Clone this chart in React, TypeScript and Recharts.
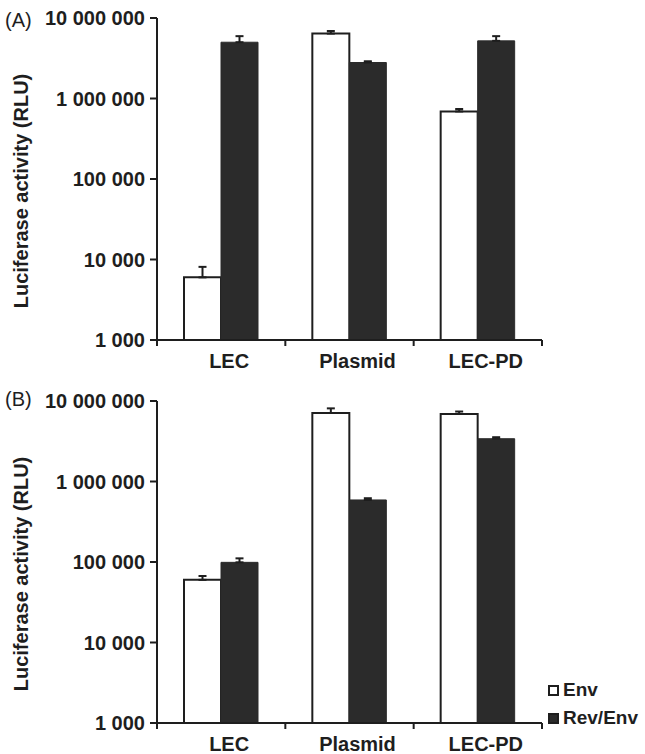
import { BarChart, Bar, XAxis, YAxis, ErrorBar, Legend, Label } from "recharts";

const CATEGORIES = ["LEC", "Plasmid", "LEC-PD"];

// panel A
const A_ENV = [6000, 6400000, 690000];
const A_ENV_ERR = [2100, 500000, 50000];
const A_REV = [5000000, 2800000, 5200000];
const A_REV_ERR = [950000, 100000, 750000];

// panel B
const B_ENV = [60000, 7100000, 6900000];
const B_ENV_ERR = [7000, 1000000, 500000];
const B_REV = [99000, 590000, 3400000];
const B_REV_ERR = [12000, 30000, 150000];

const Y_TICKS = [1000, 10000, 100000, 1000000, 10000000];

const INK = "#1e1e1e";
const DARK_BAR = "#2b2b2b";
const FONT = '"Liberation Sans", Arial, sans-serif';

const fmt = (v: number) => String(v).replace(/\B(?=(\d{3})+(?!\d))/g, " ");

function CatTick(props: any) {
  const { x, y, payload, index, width, visibleTicksCount } = props;
  const half = payload?.offset || width / visibleTicksCount / 2;
  const axisY = y - 14;
  return (
    <g>
      {index === 0 && (
        <line x1={x - half} x2={x - half} y1={axisY} y2={axisY + 6} stroke={INK} strokeWidth={2} />
      )}
      <line x1={x + half} x2={x + half} y1={axisY} y2={axisY + 6} stroke={INK} strokeWidth={2} />
      <text
        x={x + 8}
        y={y}
        dy="0.71em"
        textAnchor="middle"
        fill={INK}
        fontSize={20}
        fontWeight={700}
        fontFamily={FONT}
      >
        {payload.value}
      </text>
    </g>
  );
}

const renderYLabel = (props: any) => {
  const vb = props.viewBox;
  const cx = vb.x + 21;
  const cy = vb.y + vb.height / 2 + 12;
  return (
    <text
      x={cx}
      y={cy}
      transform={`rotate(-90, ${cx}, ${cy})`}
      textAnchor="middle"
      dominantBaseline="central"
      fill={INK}
      fontSize={20}
      fontWeight={700}
      fontFamily={FONT}
    >
      Luciferase activity (RLU)
    </text>
  );
};

function LegendContent({ payload }: any) {
  return (
    <div style={{ fontFamily: FONT }}>
      {(payload ?? []).map((p: any) => (
        <div key={p.value} style={{ display: "flex", alignItems: "center", height: 28 }}>
          <span
            style={{
              display: "inline-block",
              width: 11,
              height: 11,
              boxSizing: "border-box",
              border: `2px solid ${INK}`,
              background: p.payload?.fill ?? p.color,
              marginRight: 4,
            }}
          />
          <span style={{ fontSize: 19, fontWeight: 700, color: INK }}>{p.value}</span>
        </div>
      ))}
    </div>
  );
}

interface PanelProps {
  env: number[];
  envErr: number[];
  rev: number[];
  revErr: number[];
  height: number;
  top: number;
  axisHeight: number;
  legend?: boolean;
}

function Panel({ env, envErr, rev, revErr, height, top, axisHeight, legend }: PanelProps) {
  const data = CATEGORIES.map((name, i) => ({
    name,
    env: env[i],
    envErr: [0, envErr[i]],
    rev: rev[i],
    revErr: [0, revErr[i]],
  }));

  return (
    <BarChart
      width={645}
      height={height}
      data={data}
      barGap={0}
      margin={{ top, right: 103, left: 0, bottom: 0 }}
    >
      <XAxis
        dataKey="name"
        interval={0}
        height={axisHeight}
        tickLine={false}
        tickSize={0}
        tickMargin={14}
        axisLine={{ stroke: INK, strokeWidth: 2 }}
        tick={<CatTick />}
      />
      <YAxis
        type="number"
        scale="log"
        domain={[1000, 10000000]}
        ticks={Y_TICKS}
        allowDataOverflow
        interval={0}
        width={157}
        tickSize={7}
        tickMargin={5}
        tickFormatter={fmt}
        tickLine={{ stroke: INK, strokeWidth: 2 }}
        axisLine={{ stroke: INK, strokeWidth: 2 }}
        tick={{ fill: INK, fontSize: 20, fontWeight: 700, fontFamily: FONT }}
      >
        <Label content={renderYLabel} />
      </YAxis>
      <Bar dataKey="env" name="Env" fill="#ffffff" stroke={INK} strokeWidth={2} barSize={37} isAnimationActive={false}>
        <ErrorBar dataKey="envErr" direction="y" width={4} stroke={INK} strokeWidth={2} isAnimationActive={false} />
      </Bar>
      <Bar dataKey="rev" name="Rev/Env" fill={DARK_BAR} stroke={DARK_BAR} strokeWidth={1} barSize={37} isAnimationActive={false}>
        <ErrorBar dataKey="revErr" direction="y" width={4} stroke={INK} strokeWidth={2} isAnimationActive={false} />
      </Bar>
      {legend && (
        <Legend
          layout="vertical"
          align="center"
          verticalAlign="middle"
          wrapperStyle={{ left: 548, top: 296, width: "auto" }}
          content={<LegendContent />}
        />
      )}
    </BarChart>
  );
}

const tagStyle = {
  position: "absolute" as const,
  left: 5,
  fontSize: 20,
  lineHeight: "20px",
  fontFamily: FONT,
  color: INK,
};

export default function App() {
  return (
    <div style={{ position: "absolute", left: 0, top: 0, width: 645, height: 754, background: "#fff" }}>
      <div style={{ position: "absolute", left: 0, top: 0 }}>
        <Panel env={A_ENV} envErr={A_ENV_ERR} rev={A_REV} revErr={A_REV_ERR} height={380} top={18} axisHeight={40} />
      </div>
      <div style={{ position: "absolute", left: 0, top: 380 }}>
        <Panel env={B_ENV} envErr={B_ENV_ERR} rev={B_REV} revErr={B_REV_ERR} height={374} top={21} axisHeight={31} legend />
      </div>
      <div style={{ ...tagStyle, top: 10 }}>(A)</div>
      <div style={{ ...tagStyle, top: 389 }}>(B)</div>
    </div>
  );
}
